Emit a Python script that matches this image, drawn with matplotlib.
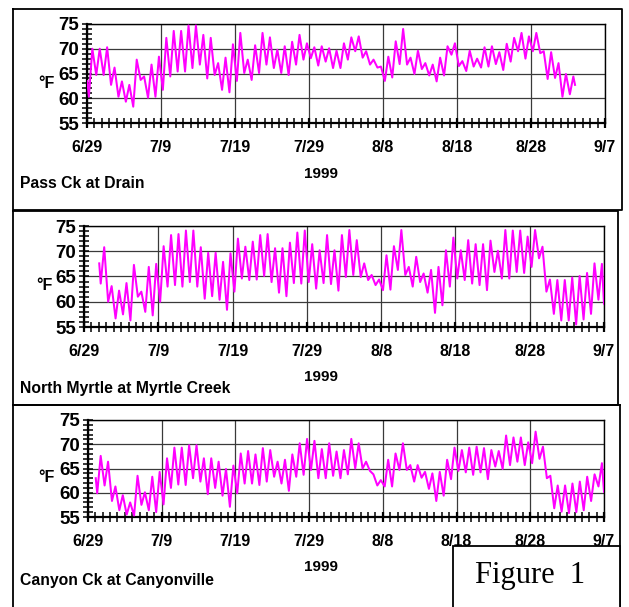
import matplotlib
matplotlib.use('Agg')
import matplotlib.pyplot as plt
from matplotlib.ticker import MultipleLocator, FixedLocator, FixedFormatter
from matplotlib.patches import Rectangle

plt.rcParams['font.family'] = ['Liberation Sans', 'DejaVu Sans']
plt.rcParams['font.weight'] = 'bold'

# ---------------- data ----------------
date_ticks = [0, 10, 20, 30, 40, 50, 60, 70]          # days since 6/29/1999
date_labels = ['6/29', '7/9', '7/19', '7/29', '8/8', '8/18', '8/28', '9/7']
year_label = '1999'
y_unit = '°F'
titles = ['Pass Ck at Drain', 'North Myrtle at Myrtle Creek', 'Canyon Ck at Canyonville']

# Pass Ck at Drain: daily minimum and maximum, day 0 .. day 65
pass_first_day = 0
pass_start = 63.5
pass_min = [60.3, 64.7, 64.7, 62.7, 60.3, 59.3, 58.3, 63.7, 60.1, 60.3,
            61.7, 64.4, 65.4, 65.4, 66.1, 66.8, 64.0, 64.7, 61.7, 61.2,
            63.5, 65.1, 63.7, 65.1, 66.8, 66.1, 65.1, 64.7, 66.8, 67.8,
            68.1, 66.6, 67.4, 66.1, 66.1,
            67.8, 69.5, 68.2, 66.8, 66.2, 63.5, 64.2, 66.9, 66.8, 64.9,
            65.9, 64.6, 63.4, 64.6, 68.8, 66.5, 65.5, 66.4, 66.2, 66.4,
            66.9, 65.7, 67.4, 69.5, 68.0, 69.5, 69.1, 63.9, 64.1, 60.3, 60.8]
pass_max = [70.0, 70.0, 70.3, 66.2, 63.4, 62.7, 67.8, 64.4, 66.8, 68.4,
            72.2, 73.6, 73.6, 74.7, 74.7, 72.8, 72.2, 67.1, 68.2, 70.9,
            73.2, 67.8, 70.7, 73.2, 72.3, 69.8, 70.5, 71.4, 72.8, 71.1,
            70.3, 70.5, 70.1, 69.6, 71.1,
            72.3, 72.5, 69.5, 67.8, 66.4, 68.4, 71.5, 74.0, 68.2, 69.6,
            67.1, 66.8, 68.2, 70.5, 71.1, 67.5, 69.6, 68.0, 70.3, 70.5,
            69.3, 71.0, 72.2, 73.2, 72.5, 73.2, 69.5, 69.3, 67.1, 64.9, 64.4]
pass_end = (65.95, 62.7)

# North Myrtle at Myrtle Creek: day 2 .. day 69
myrtle_first_day = 2
myrtle_start = 67.6
myrtle_min = [63.6, 60.0, 56.7, 57.5, 56.3, 61.0, 58.0, 57.3, 60.0, 63.0,
              63.3, 63.0, 63.9, 63.0, 60.6, 61.1, 60.4, 58.4, 62.0, 64.6,
              64.3, 64.4, 65.1, 63.9, 61.8, 61.1, 63.7, 63.6, 63.9, 62.6,
              63.7, 63.5, 62.2,
              64.9, 65.3, 64.9, 64.3, 63.3, 62.3, 62.4, 66.3, 65.3, 63.0,
              63.9, 61.8, 57.8, 59.3, 63.0, 64.6, 64.3, 63.6, 63.3, 62.3,
              65.9, 64.6, 64.6, 65.9, 65.7, 66.9, 68.6, 62.0, 57.6, 56.3,
              56.3, 55.5, 56.5, 57.6, 60.4]
myrtle_max = [70.8, 63.1, 62.2, 63.7, 67.3, 62.0, 66.9, 67.5, 71.0, 73.2,
              73.4, 74.1, 74.1, 70.8, 69.7, 69.7, 67.9, 69.6, 72.5, 70.9,
              71.9, 73.2, 73.4, 70.6, 70.6, 71.7, 73.7, 74.1, 71.4, 70.2,
              73.2, 70.2, 73.2,
              74.2, 72.2, 67.6, 65.3, 64.4, 69.2, 71.0, 74.2, 66.9, 68.9,
              65.6, 66.3, 66.9, 70.2, 72.7, 70.2, 72.2, 71.4, 71.4, 72.1,
              70.1, 74.2, 74.1, 74.1, 72.9, 74.2, 70.9, 64.4, 64.3, 64.3,
              64.8, 65.1, 65.7, 67.6, 67.5]
myrtle_end = (70.0, 59.6)

# Canyon Ck at Canyonville: day 1 .. day 69
canyon_first_day = 1
canyon_start = 63.0
canyon_min = [59.9, 61.5, 58.3, 56.4, 55.5, 55.3, 57.5, 56.4, 56.0, 57.6,
              61.0, 61.7, 61.6, 63.0, 62.3, 59.7, 61.0, 59.4, 57.1, 59.9,
              61.9, 61.9, 61.6, 62.3, 63.3, 61.9, 60.4, 63.3, 63.7, 64.7,
              63.0, 63.0, 63.5, 63.0,
              63.8, 65.0, 65.0, 64.5, 61.5, 61.3, 61.3, 64.7, 64.7, 62.3,
              63.1, 60.8, 58.3, 59.4, 62.8, 64.5, 64.2, 63.7, 64.2, 62.8,
              65.4, 64.9, 65.7, 66.4, 65.7, 66.1, 67.0, 63.0, 56.8, 56.1,
              55.8, 56.0, 56.4, 58.3, 61.3]
canyon_max = [67.6, 66.4, 61.3, 59.5, 58.0, 63.5, 60.1, 63.3, 64.3, 67.1,
              69.3, 69.3, 69.8, 69.8, 67.1, 67.1, 66.4, 64.9, 65.6, 68.1,
              68.6, 67.9, 69.2, 68.8, 66.4, 66.8, 67.9, 70.2, 71.1, 70.7,
              69.0, 70.2, 68.5, 68.8,
              71.1, 70.2, 66.4, 63.8, 62.6, 66.8, 68.1, 70.2, 65.7, 65.7,
              64.3, 64.0, 64.3, 66.8, 69.3, 68.8, 69.3, 69.5, 69.2, 68.8,
              68.6, 71.8, 71.4, 71.4, 70.4, 72.6, 69.5, 63.5, 61.5, 61.5,
              61.9, 62.3, 63.3, 63.8, 66.1]
canyon_end = (70.0, 60.2)


def diel_series(first_day, start_val, mins, maxs, end):
    t = [first_day + 0.05]
    v = [start_val]
    for i, (lo, hi) in enumerate(zip(mins, maxs)):
        d = first_day + i
        t += [d + 0.25, d + 0.72]
        v += [lo, hi]
    t.append(end[0])
    v.append(end[1])
    return t, v


series = [
    diel_series(pass_first_day, pass_start, pass_min, pass_max, pass_end),
    diel_series(myrtle_first_day, myrtle_start, myrtle_min, myrtle_max, myrtle_end),
    diel_series(canyon_first_day, canyon_start, canyon_min, canyon_max, canyon_end),
]

# ---------------- layout ----------------
W, H = 629, 607
fig = plt.figure(figsize=(W / 100, H / 100), dpi=100)
fig.patch.set_facecolor('white')

# plot areas in pixel coords (left, right, top, bottom)
areas = [(87, 605, 24, 123), (84, 604, 226, 327), (88, 604, 420, 517)]

for (l, r, t, b), (xs, ys) in zip(areas, series):
    ax = fig.add_axes([l / W, 1 - b / H, (r - l) / W, (b - t) / H])
    ax.plot(xs, ys, color='#FF00FF', lw=1.45, zorder=3, solid_joinstyle='round')
    ax.set_xlim(0, 70)
    ax.set_ylim(55, 75)
    ax.xaxis.set_major_locator(FixedLocator(date_ticks))
    ax.xaxis.set_major_formatter(FixedFormatter(date_labels))
    ax.xaxis.set_minor_locator(MultipleLocator(1))
    ax.yaxis.set_major_locator(MultipleLocator(5))
    ax.yaxis.set_minor_locator(MultipleLocator(1))
    ax.grid(True, which='major', color='#3a3a3a', lw=0.9, zorder=1)
    ax.set_axisbelow(True)
    for sp in ax.spines.values():
        sp.set_color('black')
        sp.set_linewidth(1.0)
    ax.spines['left'].set_linewidth(1.6)
    ax.spines['bottom'].set_linewidth(1.6)
    ax.tick_params(which='both', direction='inout', length=7, width=1.1,
                   color='black', top=False, right=False)
    ax.tick_params(axis='x', which='major', pad=9, labelsize=11.5, width=1.6)
    ax.tick_params(axis='y', which='major', pad=2, labelsize=13.5)
    for lab in ax.get_xticklabels() + ax.get_yticklabels():
        lab.set_fontweight('bold')

# overlay for frames and free texts
ov = fig.add_axes([0, 0, 1, 1])
ov.set_xlim(0, W)
ov.set_ylim(H, 0)
ov.axis('off')
ov.patch.set_alpha(0)

lk = dict(color='black', lw=1.3, solid_capstyle='projecting')
ov.plot([13, 622, 622, 13, 13], [9, 9, 210, 210, 9], **lk)
ov.plot([13, 618, 618, 13, 13], [211, 211, 405, 405, 211], **lk)
ov.plot([13, 13], [405, 607], **lk)
ov.plot([13, 620], [405, 405], **lk)
ov.plot([620, 620], [405, 607], **lk)

title_y = [183, 388, 580]
year_y = [174, 377, 567]
unit_pos = [(46.5, 84), (44, 286), (46, 477)]
for ttl, ty, yy, (ux, uy) in zip(titles, title_y, year_y, unit_pos):
    ov.text(20, ty, ttl, ha='left', va='center', fontsize=11.3, fontweight='bold')
    ov.text(321, yy, year_label, ha='center', va='center', fontsize=11, fontweight='bold')
    ov.text(ux, uy, y_unit, ha='center', va='center', fontsize=11.5, fontweight='bold')

ov.add_patch(Rectangle((453, 546), 167, 70, facecolor='white', edgecolor='black',
                       lw=1.3, zorder=5))
ov.text(530, 576, 'Figure  1', ha='center', va='center', fontsize=22,
        family=['Liberation Serif', 'DejaVu Serif'], fontweight='normal', zorder=6)

fig.savefig('out.png', dpi=100, facecolor='white')
